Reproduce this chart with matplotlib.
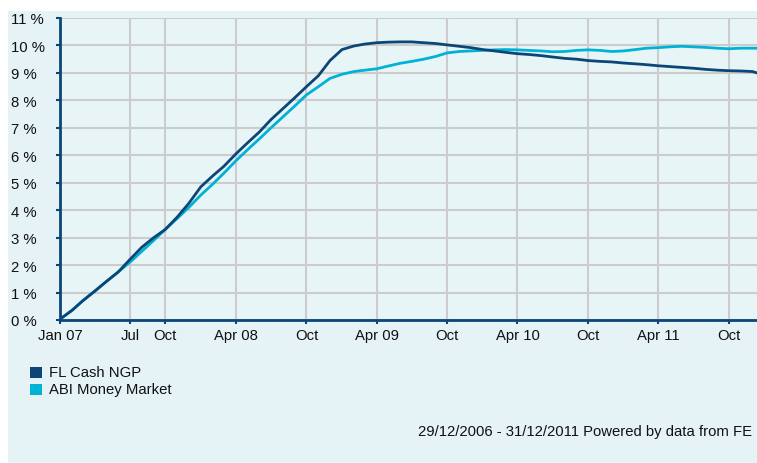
import matplotlib
matplotlib.use("Agg")
import matplotlib.pyplot as plt
import matplotlib.dates as mdates
from matplotlib.patches import Rectangle
import datetime as dt

# ---- data (monthly readings, % growth) ----
months = [dt.date(2007 + (m // 12), (m % 12) + 1, 1) for m in range(60)]
dates = [dt.date(2006, 12, 29)] + months[1:] + [dt.date(2011, 12, 13)]

fl_cash = [0.0, 0.35, 0.7, 1.05, 1.4, 1.75, 2.2, 2.65, 3.0, 3.3,
           3.75, 4.25, 4.85, 5.25, 5.6, 6.05, 6.45, 6.85, 7.3, 7.7,
           8.1, 8.5, 8.9, 9.45, 9.85, 9.98, 10.05, 10.1, 10.12, 10.13,
           10.13, 10.1, 10.07, 10.02, 9.97, 9.92, 9.85, 9.8, 9.75, 9.7,
           9.67, 9.63, 9.58, 9.53, 9.5, 9.45, 9.42, 9.4, 9.36, 9.33,
           9.3, 9.26, 9.23, 9.2, 9.17, 9.13, 9.1, 9.08, 9.07, 9.05, 9.0]

abi_mm = [0.0, 0.35, 0.7, 1.05, 1.4, 1.75, 2.1, 2.5, 2.9, 3.3,
          3.7, 4.1, 4.55, 4.95, 5.35, 5.8, 6.2, 6.6, 7.0, 7.4,
          7.8, 8.2, 8.5, 8.8, 8.95, 9.05, 9.1, 9.15, 9.25, 9.35,
          9.42, 9.5, 9.6, 9.73, 9.78, 9.8, 9.82, 9.84, 9.85, 9.84,
          9.82, 9.8, 9.77, 9.78, 9.82, 9.84, 9.82, 9.78, 9.8, 9.85,
          9.9, 9.92, 9.95, 9.97, 9.95, 9.93, 9.9, 9.88, 9.9, 9.9, 9.9]

series_names = ["FL Cash NGP", "ABI Money Market"]
series_colors = ["#0b4677", "#00b2d6"]

tick_dates = [dt.date(2007, 1, 1), dt.date(2007, 7, 1), dt.date(2007, 10, 1),
              dt.date(2008, 4, 1), dt.date(2008, 10, 1), dt.date(2009, 4, 1),
              dt.date(2009, 10, 1), dt.date(2010, 4, 1), dt.date(2010, 10, 1),
              dt.date(2011, 4, 1), dt.date(2011, 10, 1)]
tick_labels = ["Jan 07", "Jul", "Oct", "Apr 08", "Oct", "Apr 09", "Oct",
               "Apr 10", "Oct", "Apr 11", "Oct"]
y_ticks = list(range(0, 12))
footer = "29/12/2006 - 31/12/2011 Powered by data from FE"

# ---- figure ----
plt.rcParams['font.family'] = ['Liberation Sans', 'DejaVu Sans']
FS = 10.7
W, H = 757, 464
fig = plt.figure(figsize=(W / 100, H / 100), dpi=100, facecolor="white")
bg = "#e6f3f6"
fig.patches.append(Rectangle((8 / W, 0), 1 - 8 / W, 1 - 12 / H,
                             transform=fig.transFigure, facecolor=bg,
                             edgecolor="none", zorder=-5))

ax = fig.add_axes([60 / W, 1 - 321 / H, (757 - 60) / W, (321 - 19) / H])
ax.set_zorder(2)
ax.set_facecolor("#e8f5f7")
ax.plot(dates, fl_cash, color=series_colors[0], lw=2.0, zorder=3)
ax.plot(dates, abi_mm, color=series_colors[1], lw=2.0, zorder=2)

ax.set_xlim(dt.date(2007, 1, 1), dt.date(2011, 12, 13))
ax.set_ylim(0, 11)
ax.set_xticks(tick_dates)
ax.set_xticklabels(tick_labels)
ax.set_yticks(y_ticks)
ax.set_yticklabels([f"{v} %" for v in y_ticks])

axis_col = "#0b4677"
for s in ["top", "right"]:
    ax.spines[s].set_visible(False)
for s in ["left", "bottom"]:
    ax.spines[s].set_color(axis_col)
    ax.spines[s].set_linewidth(2.0)
    ax.spines[s].set_zorder(4)
ax.tick_params(axis="both", colors=axis_col, length=3, width=1.5,
               labelcolor="#111111", labelsize=FS)
# y labels are left-aligned starting near x = 12 px
ax.tick_params(axis="y", pad=(60 - 3 - 12) * 0.72)
for lab in ax.get_yticklabels():
    lab.set_horizontalalignment("left")
ax.tick_params(axis="x", pad=3)
ax.grid(True, color="#cccccc", lw=1.5, zorder=0)
ax.set_axisbelow(True)

# legend
for i, (name, col) in enumerate(zip(series_names, series_colors)):
    y0 = 368 + i * 17
    fig.patches.append(Rectangle((30 / W, 1 - (y0 + 11) / H), 12 / W, 11 / H,
                                 transform=fig.transFigure, facecolor=col,
                                 edgecolor="none", zorder=2))
    fig.text(49 / W, 1 - (y0 + 5.5) / H, name, fontsize=FS, color="#111111",
             va="center", ha="left")

fig.text(752 / W, 1 - 432 / H, footer, fontsize=FS, color="#111111",
         ha="right", va="center")

fig.savefig("out.png", dpi=100, facecolor="white")
